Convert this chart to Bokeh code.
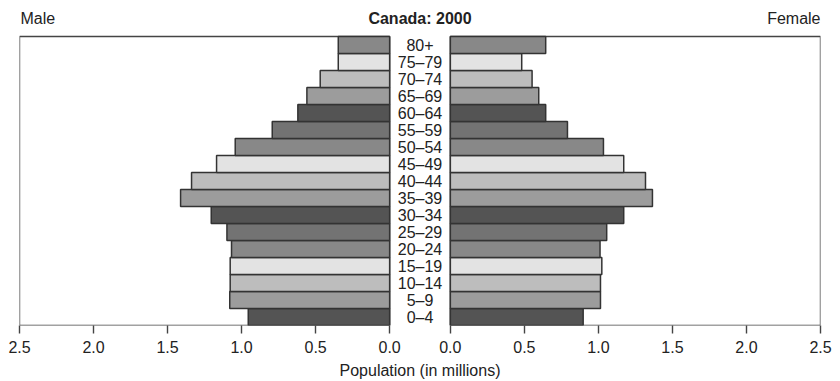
import numpy as np
from bokeh.plotting import figure
from bokeh.models import Range1d, LinearAxis, FixedTicker, CustomJSTickFormatter
from bokeh.core.properties import value
from bokeh.embed import file_html
from bokeh.resources import INLINE

# ---- data (bottom to top) ----
ages = ["0–4", "5–9", "10–14", "15–19", "20–24", "25–29", "30–34", "35–39",
        "40–44", "45–49", "50–54", "55–59", "60–64", "65–69", "70–74", "75–79", "80+"]
male = [0.955, 1.08, 1.077, 1.077, 1.068, 1.099, 1.205, 1.412,
        1.338, 1.169, 1.043, 0.793, 0.62, 0.559, 0.469, 0.347, 0.347]
female = [0.897, 1.014, 1.014, 1.023, 1.011, 1.056, 1.171, 1.365,
          1.318, 1.171, 1.034, 0.791, 0.644, 0.597, 0.552, 0.482, 0.644]
bar_colors = ["#545454", "#9c9c9c", "#bdbdbd", "#e3e3e3", "#888888", "#737373"] * 3
bar_colors = bar_colors[:len(ages)]
tick_vals = [0.0, 0.5, 1.0, 1.5, 2.0, 2.5]
title = "Canada: 2000"
left_label = "Male"
right_label = "Female"
x_label = "Population (in millions)"

XMAX = 2.5
GAP = 0.41
HEAD = 2.12        # header rows above the pyramid (for titles)
HEAD_TXT = 1.09    # header text row offset above the pyramid
FONT = "Liberation Sans"
TXT = "#222222"

n = len(ages)
ypos = np.arange(n) + 0.5

p = figure(width=840, height=381, output_backend="svg", toolbar_location=None,
           x_range=Range1d(XMAX, -XMAX - GAP), y_range=Range1d(0, n + HEAD),
           min_border_left=19, min_border_right=20, min_border_top=0, min_border_bottom=56,
           title=None)
p.extra_x_ranges = {"female": Range1d(-XMAX - GAP, XMAX)}
p.outline_line_color = None
p.xaxis.visible = False
p.yaxis.visible = False
p.grid.visible = False
p.background_fill_color = "white"
p.border_fill_color = "white"

# panel boxes
p.quad(left=0, right=XMAX, bottom=0, top=n, fill_color=None, line_color="#444444", line_width=1.4)
p.quad(left=0, right=XMAX, bottom=0, top=n, fill_color=None, line_color="#444444", line_width=1.4,
       x_range_name="female")

# bars
p.hbar(y=ypos, left=0, right=male, height=1, fill_color=bar_colors,
       line_color="#333333", line_width=1.5)
p.hbar(y=ypos, left=0, right=female, height=1, fill_color=bar_colors,
       line_color="#333333", line_width=1.5, x_range_name="female")

# age labels in the gap
p.text(x=-GAP / 2, y=ypos, text=ages, text_align="center", text_baseline="middle",
       text_font=value(FONT), text_font_size=value("16px"), text_color=TXT)

# header texts
p.text(x=XMAX, y=n + HEAD_TXT, text=[left_label], x_offset=1, text_align="left",
       text_baseline="middle", text_font=value(FONT), text_font_size=value("16px"),
       text_color=TXT)
p.text(x=-GAP / 2, y=n + HEAD_TXT, text=[title], text_align="center",
       text_baseline="middle", text_font=value(FONT), text_font_size=value("16px"),
       text_font_style="bold", text_color=TXT)
p.text(x=XMAX, y=n + HEAD_TXT, text=[right_label], text_align="right",
       text_baseline="middle", text_font=value(FONT), text_font_size=value("16px"),
       text_color=TXT, x_range_name="female")

# bottom axis (male ticks on the left, female ticks on the right)
ticks = [t for t in tick_vals] + [-(GAP + t) for t in tick_vals]
ax = LinearAxis(ticker=FixedTicker(ticks=ticks),
                formatter=CustomJSTickFormatter(args=dict(g=GAP), code="""
                    const v = tick >= -1e-9 ? tick : -tick - g;
                    return Math.abs(v).toFixed(1);
                """))
ax.axis_line_color = None
ax.major_tick_in = 0
ax.major_tick_out = 8
ax.major_tick_line_color = "#444444"
ax.major_tick_line_width = 1.4
ax.minor_tick_line_color = None
ax.major_label_standoff = 7
ax.major_label_text_font = FONT
ax.major_label_text_font_size = "16px"
ax.major_label_text_color = TXT
ax.axis_label = x_label
ax.axis_label_standoff = 6
ax.axis_label_text_font = FONT
ax.axis_label_text_font_size = "16px"
ax.axis_label_text_font_style = "normal"
ax.axis_label_text_color = TXT
p.add_layout(ax, "below")

open("out.html", "w").write(file_html(p, INLINE))
